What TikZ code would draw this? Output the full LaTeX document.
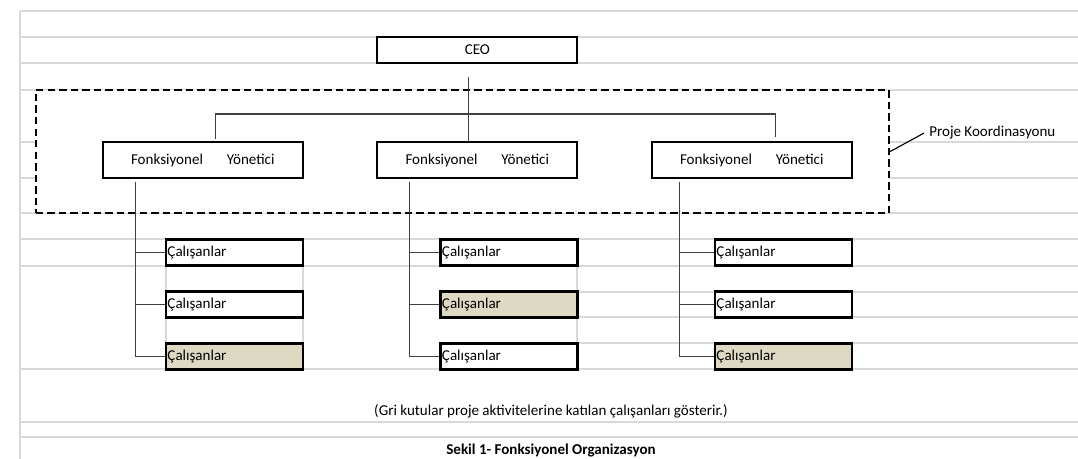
\documentclass[tikz,border=0pt]{standalone}
\usepackage{fontspec}
\setmainfont{Carlito}
\usetikzlibrary{calc}
\definecolor{gridgray}{RGB}{217,217,217}
\definecolor{beigegray}{RGB}{221,217,195}
\tikzset{
    txt/.style={font=\fontsize{10.7pt}{12.8pt}\selectfont},
    gridline/.style={draw=gridgray, line width=0.9pt},
    yonbox/.style={txt, draw, fill=white, line width=1.4pt, minimum width=5cm, minimum height=0.9cm, inner sep=0pt},
    ceobox/.style={yonbox, minimum height=0.65cm},
    calbox/.style={txt, draw, fill=white, line width=1.6pt, minimum width=3.425cm, minimum height=0.65cm, text width=3.35cm, inner xsep=1pt, inner ysep=0pt, align=left},
    dashbox/.style={draw, fill=white, line width=1.6pt, dash pattern=on 5.3pt off 2.9pt, minimum width=21.325cm, minimum height=3.075cm, inner sep=0pt},
    conn/.style={draw=black!75, line width=0.8pt},
}
\begin{document}
\begin{tikzpicture}[x=0.025cm, y=-0.025cm]
                \useasboundingbox (0,0) rectangle (1078,459);
                \foreach \y in {11,37,63,90,142,178,213,239,266,369,422,437}{
                    \draw[gridline] (20,\y) -- (1078,\y);
                }
                \foreach \y in {292,317,343}{
                    \draw[gridline] (577,\y) -- (1078,\y);
                }
                \foreach \x in {166,303,577}{
                    \draw[gridline] (\x,266) -- (\x,343);
                }
                \draw[gridline] (20,11) -- (20,459);
                \node[dashbox] (koord) at (462.5,151.5) {};
                \node[ceobox] (ceo) at (477.3,50) {CEO};
                \foreach \c/\x/\g/\tx in {1/202.8/3/34, 2/477.3/2/33, 3/751.8/3/29}{
                    \node[yonbox] (yon\c) at (\x,160) {Fonksiyonel\hspace{17pt}Yönetici};
                    \foreach \r/\y in {1/252.5, 2/304.5, 3/356.5}{
                        \ifnum\r=\g\relax \def\fillc{beigegray}\else \def\fillc{white}\fi
                        \node[calbox, fill=\fillc] (cal\c\r) at (\x+31.7,\y) {Çalışanlar};
                    }
                    \draw[conn] (yon\c.south west) ++(\tx,3) coordinate (t\c) -- (t\c |- cal\c3.west);
                    \foreach \r in {1,2,3}{
                        \draw[conn] (t\c |- cal\c\r.west) -- (cal\c\r.west);
                    }
                }
                \draw[conn] ($(ceo.south)+(-9,13)$) -- ($(yon2.north)+(-9,0)$);
                \draw[conn] ($(yon1.north)+(13,-2)$) |- ($(ceo.south)+(0,50)$) -| ($(yon3.north)+(24,-4)$);
                \node[txt, anchor=base west, inner sep=0pt] (proje) at (929,137) {Proje Koordinasyonu};
                \draw[black, line width=0.8pt] (koord.east) -- ($(proje.west)+(-5,0)$);
                \node[txt, anchor=base, inner sep=0pt] (not) at (551,415) {(Gri kutular proje aktivitelerine katılan çalışanları gösterir.)};
                \node[txt, font=\fontsize{10.7pt}{12.8pt}\selectfont\bfseries, anchor=base, inner sep=0pt] (sekil) at (551,454.5) {Sekil 1- Fonksiyonel Organizasyon};
            \end{tikzpicture}
\end{document}
